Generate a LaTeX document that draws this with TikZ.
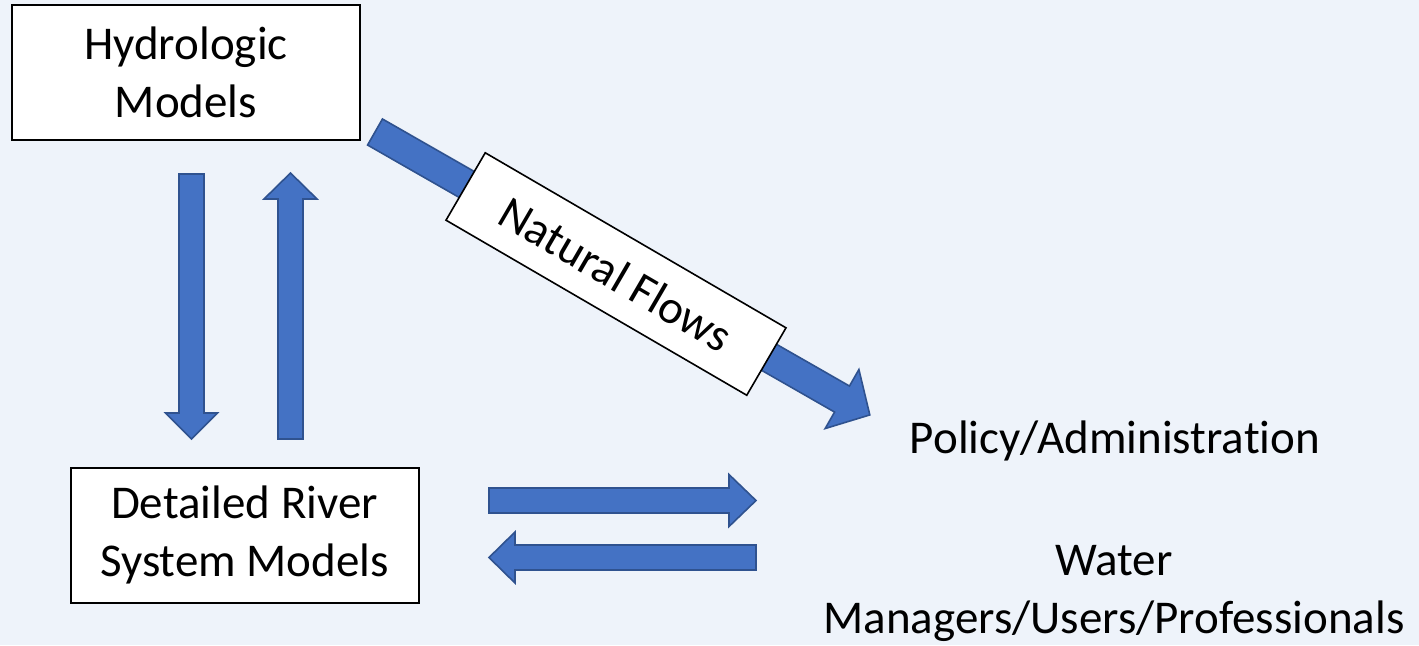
\documentclass[tikz,border=0pt]{standalone}
\usepackage{fontspec}
\setmainfont{Carlito}[Ligatures={NoCommon}]
\definecolor{bgblue}{HTML}{EEF3FA}
\definecolor{arrowfill}{HTML}{4472C4}
\definecolor{arrowline}{HTML}{2F528F}
\newcommand\blockarrowshape[4]{% length, shaft half-width, head half-width, head length
  \draw[barrow] (0,-#2) -- ({#1-#4},-#2) -- ({#1-#4},-#3) -- (#1,0) -- ({#1-#4},#3) -- ({#1-#4},#2) -- (0,#2) -- cycle;}
\begin{document}
\begin{tikzpicture}[x=0.5pt,y=-0.5pt,
  txt/.style={font=\fontsize{23.5}{29}\selectfont, align=center, inner sep=0pt},
  modelbox/.style={txt, draw=black, line width=1pt, fill=white, minimum width=174pt, minimum height=67.5pt},
  barrow/.style={fill=arrowfill, draw=arrowline, line width=0.8pt, line join=miter},
  labelbox/.style={txt, draw=black, line width=0.8pt, fill=white, minimum width=174pt, minimum height=39pt}]
  \fill[bgblue] (0,0) rectangle (1419,645);
  \useasboundingbox (0,0) rectangle (1419,645);

  % boxes
  \node[modelbox] (hydro) at (186,72.5) {Hydrologic\\Models};
  \node[modelbox] (river) at (244.5,535) {Detailed River\\System Models};

  % right-hand texts
  \node[txt] (policy) at (1115,441) {Policy/Administration};
  \node[txt] (water) at (1114,593) {Water\\Managers/Users/Professionals};

  % vertical arrows
  \begin{scope}[shift={(191.5,174)}, rotate=-90]
    \blockarrowshape{265}{12.5}{26}{26}
  \end{scope}
  \begin{scope}[shift={(290.5,439)}, rotate=90]
    \blockarrowshape{266}{12.5}{26.5}{26}
  \end{scope}

  % horizontal arrows
  \begin{scope}[shift={(489,500.5)}]
    \blockarrowshape{267}{12.5}{26}{27}
  \end{scope}
  \begin{scope}[shift={(756,557.5)}, rotate=180]
    \blockarrowshape{267}{12.5}{25.5}{26}
  \end{scope}

  % diagonal arrow
  \begin{scope}[shift={(375,132)}, rotate=-29.76]
    \blockarrowshape{570}{15}{34}{32}
  \end{scope}

  % label on diagonal arrow
  \node[labelbox, rotate=-30.2] (flows) at (616,274) {Natural Flows};
\end{tikzpicture}
\end{document}
